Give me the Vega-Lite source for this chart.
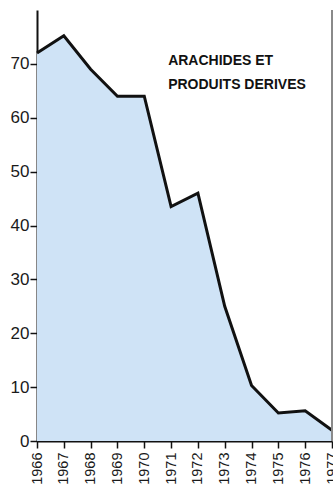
{
  "$schema": "https://vega.github.io/schema/vega-lite/v6.json",
  "width": 295,
  "height": 431,
  "autosize": {"type": "none"},
  "padding": {"left": 37, "top": 10, "right": 1, "bottom": 50},
  "background": "white",
  "config": {"view": {"stroke": null}, "axis": {"labelOverlap": false}},
  "encoding": {
    "x": {
      "field": "year", "type": "quantitative",
      "scale": {"domain": [1966, 1977], "nice": false, "zero": false},
      "axis": {
        "title": null,
        "values": [1966, 1967, 1968, 1969, 1970, 1971, 1972, 1973, 1974, 1975, 1976, 1977],
        "format": "d",
        "labelAngle": -90,
        "labelAlign": "right",
        "labelBaseline": "middle",
        "labelFont": "Liberation Sans",
        "labelFontSize": 14.5,
        "labelColor": "#1a1a1a",
        "labelPadding": 4,
        "labelOverlap": false,
        "labelFlush": false,
        "labelBound": false,
        "domainColor": "#111111",
        "domainWidth": 2,
        "tickColor": "#111111",
        "tickWidth": 1.5,
        "tickSize": 7,
        "grid": false
      }
    },
    "y": {
      "field": "value", "type": "quantitative",
      "scale": {"domain": [0, 80], "nice": false},
      "axis": {
        "title": null,
        "values": [0, 10, 20, 30, 40, 50, 60, 70],
        "labelFont": "Liberation Sans",
        "labelFontSize": 17,
        "labelColor": "#1a1a1a",
        "labelPadding": 1,
        "labelOverlap": false,
        "domainColor": "#111111",
        "domainWidth": 2,
        "tickColor": "#111111",
        "tickWidth": 1.5,
        "tickSize": 7,
        "grid": false
      }
    }
  },
  "layer": [
    {
      "data": {"values": [
        {"year": 1966, "value": 72},
        {"year": 1967, "value": 75.2},
        {"year": 1968, "value": 69},
        {"year": 1969, "value": 64},
        {"year": 1970, "value": 64},
        {"year": 1971, "value": 43.5},
        {"year": 1972, "value": 46},
        {"year": 1973, "value": 25},
        {"year": 1974, "value": 10.3},
        {"year": 1975, "value": 5.2},
        {"year": 1976, "value": 5.6},
        {"year": 1977, "value": 2}
      ]},
      "layer": [
        {"mark": {"type": "area", "color": "#cfe3f6", "opacity": 1}},
        {"mark": {"type": "line", "color": "#111111", "strokeWidth": 3, "strokeJoin": "miter"}}
      ]
    },
    {
      "data": {"values": [{"year": 1977, "value": 0, "hi": 80}]},
      "mark": {"type": "rule", "color": "#8a8a8a", "strokeWidth": 2},
      "encoding": {
        "y2": {"field": "hi"}
      }
    },
    {
      "data": {"values": [
        {"label": "ARACHIDES ET", "year": 1970.89, "value": 69.8},
        {"label": "PRODUITS DERIVES", "year": 1970.89, "value": 65.3}
      ]},
      "mark": {"type": "text", "align": "left", "baseline": "alphabetic", "font": "Liberation Sans", "fontWeight": "bold", "fontSize": 14, "color": "#111111"},
      "encoding": {
        "text": {"field": "label"}
      }
    }
  ]
}
